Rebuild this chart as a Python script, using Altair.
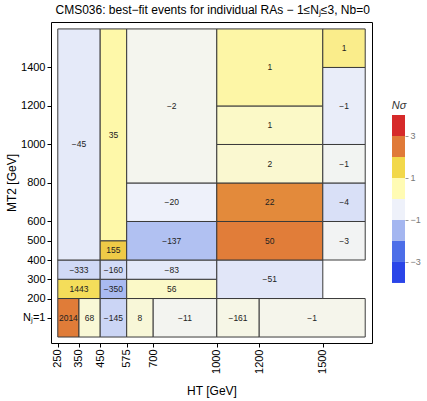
import altair as alt
import pandas as pd

# HT bin edges (GeV), MT2 bin edges (GeV; the N_j=1 row is drawn in the 0-200 strip)
ht_lo = [250, 350, 450, 575, 700, 1000, 1200,
         250, 250, 250,
         450, 450, 450, 450,
         575, 575, 575, 575, 575,
         1000, 1000, 1000, 1000, 1000, 1000,
         1500, 1500, 1500, 1500, 1500]
ht_hi = [350, 450, 575, 700, 1000, 1200, 1700,
         450, 450, 450,
         575, 575, 575, 575,
         1000, 1000, 1000, 1000, 1000,
         1500, 1500, 1500, 1500, 1500, 1500,
         1700, 1700, 1700, 1700, 1700]
mt_lo = [0, 0, 0, 0, 0, 0, 0,
         200, 300, 400,
         200, 300, 400, 500,
         200, 300, 400, 600, 800,
         200, 400, 600, 800, 1000, 1200,
         400, 600, 800, 1000, 1400]
mt_hi = [200, 200, 200, 200, 200, 200, 200,
         300, 400, 1600,
         300, 400, 500, 1600,
         300, 400, 600, 800, 1600,
         400, 600, 800, 1000, 1200, 1600,
         600, 800, 1000, 1400, 1600]
events = [2014, 68, -145, 8, -11, -161, -1,
          1443, -333, -45,
          -350, -160, 155, 35,
          56, -83, -137, -20, -2,
          -51, 50, 22, 2, 1, 1,
          -3, -4, -1, -1, 1]
nsigma = [2.48, 0.21, -0.97, 0.19, -0.08, 0.07, 0.03,
          1.35, -0.90, -0.62,
          -1.43, -0.88, 1.65, 0.60,
          0.34, -0.64, -1.32, -0.50, 0.0,
          -0.68, 2.47, 2.33, 0.26, 0.34, 0.63,
          -0.20, -0.78, -0.15, -0.57, 0.89]

x_ticks = [250, 350, 450, 575, 700, 1000, 1200, 1500]
y_ticks = [100, 200, 300, 400, 500, 600, 800, 1000, 1200, 1400]

band_lo = [-4, -3, -2, -1, 0, 1, 2, 3]
band_hi = [-3, -2, -1, 0, 1, 2, 3, 4]
band_mid = [-3.5, -2.5, -1.5, -0.5, 0.5, 1.5, 2.5, 3.5]
cbar_ticks = [-3, -1, 1, 3]

df = pd.DataFrame({
    "ht_lo": ht_lo, "ht_hi": ht_hi, "mt_lo": mt_lo, "mt_hi": mt_hi,
    "events": events, "ns": nsigma,
})
df["label"] = [str(v).replace("-", "\u2212") for v in events]

bands = pd.DataFrame({"lo": band_lo, "hi": band_hi, "mid": band_mid})

color_scale = alt.Scale(
    domain=[-3.5, -2.5, -1.5, -0.5, 0, 0.5, 1.5, 2.5, 3.5],
    range=["#2a45e8", "#4c6ee8", "#a4b6f0", "#eef1fa", "#f4f5ee",
           "#fffbb4", "#f2d84a", "#e07a38", "#d62a2a"],
    interpolate="rgb",
)

FONT = "Liberation Sans"

xs = alt.Scale(domain=[218, 1732], nice=False, zero=False)
ys = alt.Scale(domain=[-31, 1636], nice=False, zero=False)

x_axis = alt.Axis(values=x_ticks, labelAngle=270, title="HT [GeV]", grid=False,
                  domain=False, tickColor="black", tickSize=4, labelFontSize=11,
                  labelColor="black", titleFontSize=12, titleFontWeight="normal",
                  titleColor="black", labelPadding=2, titlePadding=12, format="d",
                  labelOverlap=False, labelFont=FONT, titleFont=FONT)
y_axis = alt.Axis(values=y_ticks, title="MT2 [GeV]", grid=False, domain=False,
                  tickColor="black", tickSize=4, labelFontSize=11, labelColor="black",
                  titleFontSize=12, titleFontWeight="normal", titleColor="black",
                  labelPadding=2, titlePadding=2, format="d", labelOverlap=False,
                  labelFont=FONT, titleFont=FONT,
                  labelExpr="datum.value == 100 ? 'N\u2c7c=1' : datum.label")

base = alt.Chart(df)

rects = base.mark_rect(stroke="#3a3a3a", strokeWidth=1).encode(
    x=alt.X("ht_lo:Q", scale=xs, axis=x_axis),
    x2="ht_hi:Q",
    y=alt.Y("mt_lo:Q", scale=ys, axis=y_axis),
    y2="mt_hi:Q",
    color=alt.Color("ns:Q", scale=color_scale, legend=None),
)

texts = base.transform_calculate(
    xc="(datum.ht_lo + datum.ht_hi) / 2",
    yc="(datum.mt_lo + datum.mt_hi) / 2",
).mark_text(fontSize=8.5, color="#222222", font=FONT).encode(
    x=alt.X("xc:Q", scale=xs, axis=x_axis),
    y=alt.Y("yc:Q", scale=ys, axis=y_axis),
    text="label:N",
)

main = alt.layer(rects, texts).properties(
    width=321, height=321,
    view=alt.ViewBackground(stroke="black", strokeWidth=1),
)

cbar = alt.Chart(bands).mark_rect().encode(
    x=alt.value(0), x2=alt.value(13),
    y=alt.Y("lo:Q", scale=alt.Scale(domain=[-6.86, 8.43], nice=False, zero=False),
            axis=alt.Axis(orient="right", values=cbar_ticks, grid=False, domain=False,
                          tickColor="#999999", tickSize=3, labelColor="#777777",
                          labelFontSize=9, labelPadding=2, labelFont=FONT,
                          labelExpr="datum.value < 0 ? '\u2212' + abs(datum.value) : datum.label",
                          title="N\u03c3", titleAngle=0, titleX=-6.5, titleY=86,
                          titleAlign="center", titleBaseline="alphabetic",
                          titleFontStyle="italic", titleFontWeight="normal",
                          titleFontSize=11, titleColor="#333333", titleFont=FONT)),
    y2="hi:Q",
    color=alt.Color("mid:Q", scale=color_scale, legend=None),
).properties(width=13, height=321,
             view=alt.ViewBackground(strokeWidth=0))

chart = alt.hconcat(main, cbar, spacing=18).properties(
    title=alt.TitleParams(
        "CMS036: best\u2212fit events for individual RAs \u2212 1\u2264N\u2c7c\u22643, Nb=0",
        fontSize=12, fontWeight="normal", anchor="middle", font=FONT,
        color="black", offset=5),
    padding={"left": 5, "top": 3, "right": 5, "bottom": 5},
).configure_view(strokeWidth=0).configure(font=FONT)

chart.save("out.html", embed_options={"renderer": "svg", "actions": False})
